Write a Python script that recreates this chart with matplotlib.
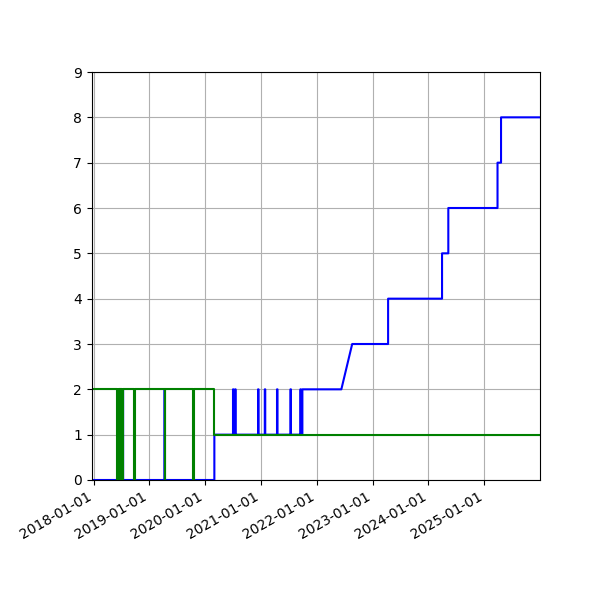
import matplotlib
matplotlib.use("Agg")
import matplotlib.pyplot as plt
import matplotlib.dates as mdates
import pandas as pd

blue_dates = ["2017-12-20","2018-06-05","2018-06-05","2018-06-07","2018-06-07","2018-06-09","2018-06-09",
              "2018-06-12","2018-06-12","2018-06-14","2018-06-14","2018-06-17","2018-06-17","2018-06-19","2018-06-19",
              "2018-06-22","2018-06-22","2018-06-25","2018-06-25","2018-06-28","2018-06-28","2018-07-10","2018-07-10",
              "2018-07-13","2018-07-13","2018-09-24","2018-09-24","2018-09-27","2018-09-27",
              "2019-04-10","2019-04-10","2019-04-12","2019-04-12","2019-10-15","2019-10-15","2019-10-18","2019-10-18",
              "2020-03-01","2020-03-01",
              "2020-07-01","2020-07-01","2020-07-04","2020-07-04","2020-07-15","2020-07-15","2020-07-18","2020-07-18",
              "2020-12-12","2020-12-12","2020-12-15","2020-12-15","2021-01-25","2021-01-25","2021-01-28","2021-01-28",
              "2021-04-15","2021-04-15","2021-04-18","2021-04-18","2021-07-12","2021-07-12","2021-07-15","2021-07-15",
              "2021-09-15","2021-09-15","2021-09-18","2021-09-18","2021-09-28","2021-09-28",
              "2022-06-10","2022-08-20","2023-04-12","2023-04-12","2024-03-30","2024-03-30","2024-05-10","2024-05-10",
              "2025-03-28","2025-03-28","2025-04-20","2025-04-20","2025-12-31"]
blue_values = [0,0,2,2,0,0,2,2,0,0,2,2,0,0,2,2,0,0,2,2,0,0,2,2,0,0,2,2,0,
               0,2,2,0,0,2,2,0,
               0,1,
               1,2,2,1,1,2,2,1,
               1,2,2,1,1,2,2,1,
               1,2,2,1,1,2,2,1,
               1,2,2,1,1,2,
               2,3,3,4,4,5,5,6,
               6,7,7,8,8]

green_dates = ["2017-12-20","2018-06-05","2018-06-05","2018-06-08","2018-06-08","2018-06-10","2018-06-10",
               "2018-06-13","2018-06-13","2018-06-15","2018-06-15","2018-06-18","2018-06-18","2018-06-20","2018-06-20",
               "2018-06-23","2018-06-23","2018-06-26","2018-06-26","2018-06-29","2018-06-29","2018-07-08","2018-07-08",
               "2018-07-12","2018-07-12","2018-09-24","2018-09-24","2018-09-27","2018-09-27",
               "2019-04-10","2019-04-10","2019-04-12","2019-04-12","2019-10-15","2019-10-15","2019-10-18","2019-10-18",
               "2020-03-01","2020-03-01","2025-12-31"]
green_values = [2,2,0,0,2,2,0,0,2,2,0,0,2,2,0,0,2,2,0,0,2,2,0,0,2,2,0,0,2,
                2,0,0,2,2,0,0,2,
                2,1,1]

fig, ax = plt.subplots(figsize=(6, 6), dpi=100)
fig.subplots_adjust(left=0.153, right=0.9)
ax.plot(pd.to_datetime(blue_dates), blue_values, color="blue")
ax.plot(pd.to_datetime(green_dates), green_values, color="green")
ax.set_ylim(0, 9)
ax.set_xlim(pd.Timestamp("2017-12-20"), pd.Timestamp("2025-12-31"))
ax.xaxis.set_major_locator(mdates.YearLocator())
ax.xaxis.set_major_formatter(mdates.DateFormatter("%Y-%m-%d"))
ax.grid(True)
fig.autofmt_xdate()
fig.savefig("out.png")
